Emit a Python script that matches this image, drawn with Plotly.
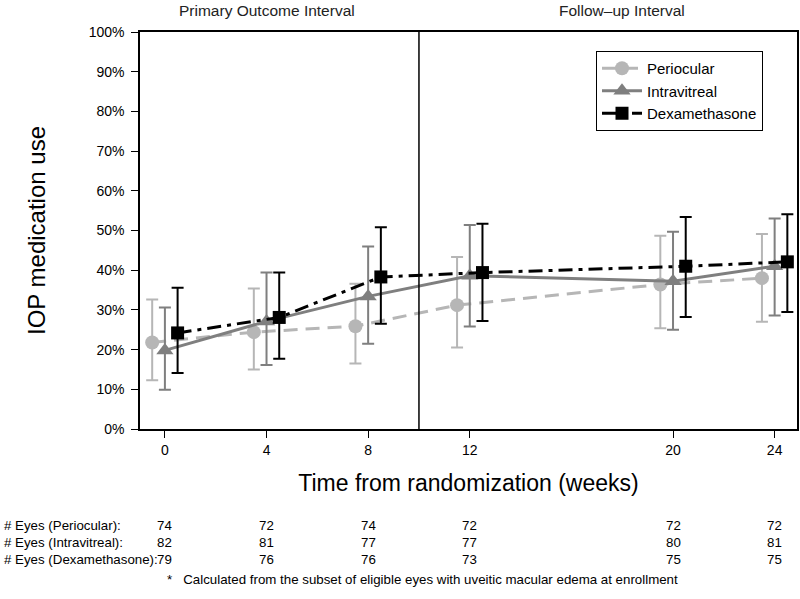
import plotly.graph_objects as go

weeks = [0, 4, 8, 12, 20, 24]
tick_labels = ["0", "4", "8", "12", "20", "24"]
y_ticks = [0, 10, 20, 30, 40, 50, 60, 70, 80, 90, 100]
y_tick_labels = ["0%", "10%", "20%", "30%", "40%", "50%", "60%", "70%", "80%", "90%", "100%"]

series_names = ["Periocular", "Intravitreal", "Dexamethasone"]
offsets = [-0.5, 0.0, 0.5]

peri_mean = [21.8, 24.4, 25.9, 31.2, 36.4, 38.0]
peri_lo = [12.3, 15.0, 16.5, 20.5, 25.4, 27.0]
peri_hi = [32.6, 35.4, 36.6, 43.3, 48.7, 49.1]

intra_mean = [19.8, 27.1, 33.4, 38.6, 37.2, 41.0]
intra_lo = [9.9, 16.1, 21.5, 25.8, 25.0, 28.6]
intra_hi = [30.6, 39.4, 46.0, 51.4, 49.7, 53.0]

dex_mean = [24.2, 28.1, 38.3, 39.4, 41.0, 42.1]
dex_lo = [14.1, 17.7, 26.5, 27.2, 28.2, 29.5]
dex_hi = [35.6, 39.4, 50.8, 51.7, 53.4, 54.1]

n_peri = [74, 72, 74, 72, 72, 72]
n_intra = [82, 81, 77, 77, 80, 81]
n_dex = [79, 76, 76, 73, 75, 75]
row_labels = ["# Eyes (Periocular):", "# Eyes (Intravitreal):", "# Eyes (Dexamethasone):"]

interval_labels = ["Primary Outcome Interval", "Follow\u2013up Interval"]
interval_centers = [4, 18]
footnote = "*   Calculated from the subset of eligible eyes with uveitic macular edema at enrollment"

colors = ["#b6b6b6", "#7f7f7f", "#000000"]
dashes = ["14px,8px", "solid", "14px,6px,4px,6px"]
symbols = ["circle", "triangle-up", "square"]
sizes = [14, 15, 13]

means = [peri_mean, intra_mean, dex_mean]
los = [peri_lo, intra_lo, dex_lo]
his = [peri_hi, intra_hi, dex_hi]

W, H = 800, 599
ML, MR, MT, MB = 140, 3, 32, 170
ph = H - MT - MB

def py(pix):
    return (H - MB - pix) / ph

def px(pix):
    return (pix - ML) / (W - ML - MR)

fig = go.Figure()
for i in range(3):
    xs = [w + offsets[i] for w in weeks]
    m = means[i]
    fig.add_trace(go.Scatter(
        x=xs, y=m, name=series_names[i], mode="lines+markers",
        line=dict(color=colors[i], width=3, dash=dashes[i]),
        marker=dict(symbol=symbols[i], size=sizes[i], color=colors[i]),
        error_y=dict(type="data", symmetric=False,
                     array=[h - v for h, v in zip(his[i], m)],
                     arrayminus=[v - l for l, v in zip(los[i], m)],
                     color=colors[i], thickness=2, width=6),
    ))

fig.add_shape(type="line", xref="x", yref="paper", x0=10, x1=10, y0=0, y1=1,
              line=dict(color="black", width=1.5))

font_main = "Liberation Sans, Arial, Helvetica, sans-serif"
annotations = []
for lab, c in zip(interval_labels, interval_centers):
    annotations.append(dict(text=lab, x=c, xref="x", y=py(11), yref="paper",
                            showarrow=False, xanchor="center", yanchor="middle",
                            font=dict(size=15.5, color="#222", family="Liberation Sans Narrow, " + font_main)))
rows = [n_peri, n_intra, n_dex]
row_y = [525, 542, 559]
for lab, vals, yy in zip(row_labels, rows, row_y):
    annotations.append(dict(text=lab, x=px(2), xref="paper", y=py(yy), yref="paper",
                            showarrow=False, xanchor="left", yanchor="middle",
                            font=dict(size=13.3, color="black", family=font_main)))
    for w, v in zip(weeks, vals):
        annotations.append(dict(text=str(v), x=w, xref="x", y=py(yy), yref="paper",
                                showarrow=False, xanchor="center", yanchor="middle",
                                font=dict(size=13.3, color="black", family=font_main)))
annotations.append(dict(text=footnote, x=px(165), xref="paper", y=py(579), yref="paper",
                        showarrow=False, xanchor="left", yanchor="middle",
                        font=dict(size=13.3, color="black", family=font_main)))

fig.update_layout(
    width=W, height=H,
    margin=dict(l=ML, r=MR, t=MT, b=MB, autoexpand=False),
    paper_bgcolor="white", plot_bgcolor="white",
    font=dict(family=font_main, color="black", size=13),
    showlegend=True,
    legend=dict(x=px(596), y=py(51), xanchor="left", yanchor="top",
                bordercolor="black", borderwidth=1, bgcolor="white",
                font=dict(size=15, family=font_main),
                itemwidth=40),
    annotations=annotations,
    xaxis=dict(range=[-0.98, 24.88], tickvals=weeks, ticktext=tick_labels, automargin=False,
               showline=True, linecolor="black", linewidth=1.5, mirror=True,
               ticks="outside", ticklen=7, tickcolor="black", showgrid=False, zeroline=False,
               tickfont=dict(size=14),
               title=dict(text="Time from randomization (weeks)", font=dict(size=23), standoff=18)),
    yaxis=dict(range=[0, 100], tickvals=y_ticks, ticktext=y_tick_labels, automargin=False,
               showline=True, linecolor="black", linewidth=1.5, mirror=True,
               ticks="outside", ticklen=7, tickcolor="black", showgrid=False, zeroline=False,
               tickfont=dict(size=14), ticklabelstandoff=4,
               title=dict(text="IOP medication use", font=dict(size=24), standoff=36)),
)

fig.write_html("out.html", config={"displayModeBar": False},
               post_script="document.body.style.margin='0';")
